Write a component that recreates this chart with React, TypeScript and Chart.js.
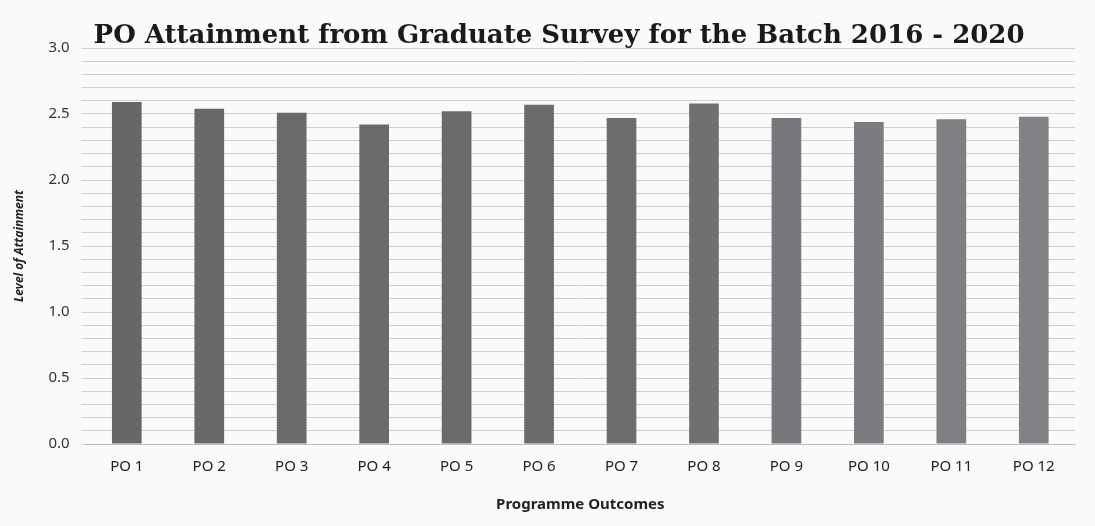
import React, { useEffect, useRef } from "react";
import { Chart, registerables } from "chart.js";

Chart.register(...registerables);

const chartTitle = "PO Attainment from Graduate Survey for the Batch 2016 - 2020";
const categories = ["PO 1", "PO 2", "PO 3", "PO 4", "PO 5", "PO 6", "PO 7", "PO 8", "PO 9", "PO 10", "PO 11", "PO 12"];
const attainment = [2.59, 2.54, 2.51, 2.42, 2.52, 2.57, 2.47, 2.58, 2.47, 2.44, 2.46, 2.48];
const barColors = ["#676767", "#686868", "#6a6a6a", "#6a6a6a", "#6b6b6b", "#6b6b6b", "#6e6e6e", "#707070", "#77777b", "#7b7b80", "#7e7e83", "#818186"];
const yLabelStep = 0.5;

const titlePlugin = {
  id: "insideTitle",
  afterDraw(chart: any) {
    const { ctx, chartArea } = chart;
    ctx.save();
    ctx.font = "bold 26px 'DejaVu Serif'";
    ctx.fillStyle = "#1a1a1a";
    ctx.textBaseline = "middle";
    ctx.textAlign = "left";
    ctx.fillText(chartTitle, chartArea.left + 8, chartArea.top - 12);
    ctx.restore();
  },
};

export default function App() {
  const ref = useRef<HTMLCanvasElement | null>(null);
  useEffect(() => {
    if (!ref.current) return;
    const chart = new Chart(ref.current, {
      type: "bar",
      data: {
        labels: categories,
        datasets: [
          {
            data: attainment,
            backgroundColor: barColors,
            barPercentage: 0.36,
            categoryPercentage: 1,
          },
        ],
      },
      options: {
        animation: false,
        responsive: true,
        maintainAspectRatio: false,
        layout: { padding: { top: 48, right: 20, left: 8, bottom: 8 } },
        plugins: { legend: { display: false }, tooltip: { enabled: false }, title: { display: false } },
        scales: {
          x: {
            grid: { display: false },
            border: { color: "#bdbdbd" },
            ticks: { color: "#222", font: { family: "'Noto Sans'", size: 15 }, padding: 6 },
            title: {
              display: true,
              text: "Programme Outcomes",
              color: "#222",
              font: { family: "'Noto Sans'", size: 15, weight: "bold" },
              padding: { top: 14 },
            },
          },
          y: {
            min: 0,
            max: 3,
            grid: { color: "#cfcfcf", lineWidth: 1, drawTicks: true, tickLength: 4 },
            border: { display: false },
            ticks: {
              stepSize: 0.1,
              autoSkip: false,
              color: "#333",
              padding: 12,
              font: { family: "'Noto Sans'", size: 15 },
              callback: (v: any) => {
                const n = Number(v);
                const r = Math.round(n / yLabelStep) * yLabelStep;
                return Math.abs(n - r) < 1e-6 ? r.toFixed(1) : "";
              },
            },
            title: {
              display: true,
              text: "Level of Attainment",
              color: "#222",
              font: { family: "'Noto Sans'", size: 12, weight: "bold", style: "italic" },
              padding: { bottom: 10 },
            },
          },
        },
      },
      plugins: [titlePlugin],
    });
    return () => chart.destroy();
  }, []);
  return (
    <div style={{ position: "fixed", left: 0, top: 0, width: 1095, height: 526, background: "#fafafa" }}>
      <canvas ref={ref} />
    </div>
  );
}
